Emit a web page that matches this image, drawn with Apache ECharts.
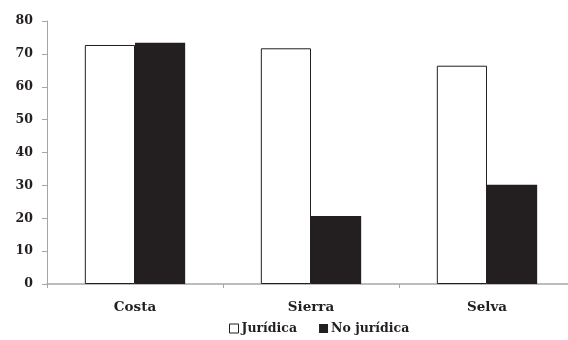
<!DOCTYPE html>
<html>
<head>
<meta charset="utf-8">
<script src="https://cdn.jsdelivr.net/npm/echarts@6/dist/echarts.min.js"></script>
<style>
  html, body { margin: 0; padding: 0; background: #fff; }
  #chart { width: 568px; height: 340px; }
</style>
</head>
<body>
<div id="chart"></div>
<script>
// Regions and percentages by type of ownership
const categories = ['Costa', 'Sierra', 'Selva'];
const juridica = [72.7, 71.7, 66.4];
const noJuridica = [73.4, 20.7, 30.2];
const yTicks = [0, 10, 20, 30, 40, 50, 60, 70, 80];

const ink = '#231f20';
const axisGrey = '#a6a6a6';
const yFont = { fontFamily: 'DejaVu Serif', fontWeight: 'bold', fontSize: 12.5, color: ink };
const xFont = { fontFamily: 'DejaVu Serif', fontWeight: 'bold', fontSize: 13.5, color: ink };
const legendFont = { fontFamily: 'DejaVu Serif', fontWeight: 'bold', fontSize: 12.5, color: ink };

const chart = echarts.init(document.getElementById('chart'), null, { renderer: 'canvas' });
chart.setOption({
  animation: false,
  backgroundColor: '#fff',
  grid: { left: 47, top: 21, width: 528, height: 263, containLabel: false, outerBoundsMode: 'none' },
  legend: {
    top: 317,
    left: 224,
    itemWidth: 9,
    itemHeight: 9,
    itemGap: 22,
    textStyle: Object.assign({}, legendFont, { padding: [0, 0, 0, -2] }),
    data: [
      { name: 'Jurídica', icon: 'rect', itemStyle: { color: '#fff', borderColor: ink, borderWidth: 1 } },
      { name: 'No jurídica', icon: 'rect', itemStyle: { color: ink } }
    ]
  },
  xAxis: {
    type: 'category',
    data: categories,
    axisLine: { lineStyle: { color: axisGrey, width: 1.5 } },
    axisTick: { show: true, length: 4, lineStyle: { color: axisGrey } },
    axisLabel: Object.assign({ margin: 16 }, xFont)
  },
  yAxis: {
    type: 'value',
    min: yTicks[0],
    max: yTicks[yTicks.length - 1],
    interval: 10,
    splitLine: { show: false },
    axisLine: { show: true, lineStyle: { color: axisGrey } },
    axisTick: { show: true, length: 5, lineStyle: { color: axisGrey } },
    axisLabel: Object.assign({ margin: 14 }, yFont)
  },
  series: [
    {
      name: 'Jurídica',
      type: 'bar',
      data: juridica,
      barGap: '0%',
      barCategoryGap: '43%',
      itemStyle: { color: '#fff', borderColor: ink, borderWidth: 1 }
    },
    {
      name: 'No jurídica',
      type: 'bar',
      data: noJuridica,
      itemStyle: { color: ink }
    }
  ]
});
</script>
</body>
</html>
